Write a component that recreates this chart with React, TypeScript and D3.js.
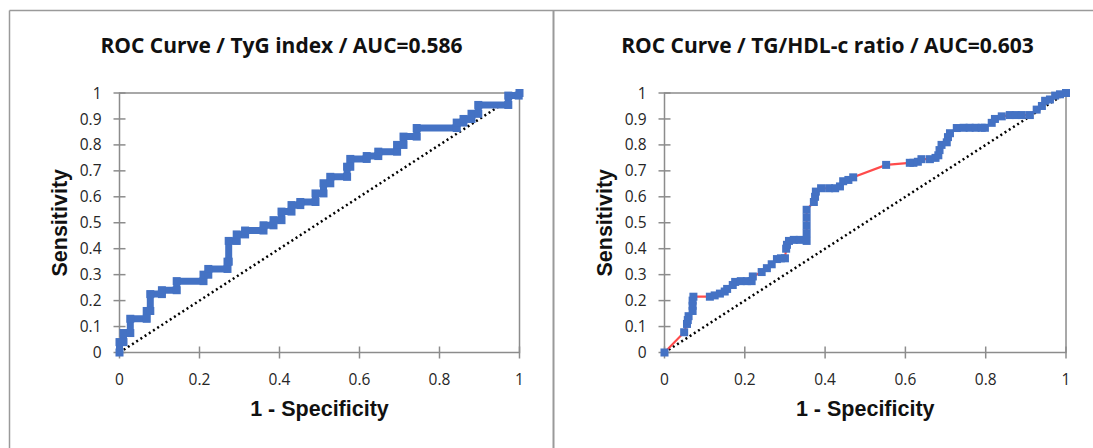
import React, { useRef, useEffect } from 'react';
import * as d3 from 'd3';

// TyG index ROC curve (step vertices)
const tygFpr = [0, 0, 0.01, 0.01, 0.027, 0.027, 0.068, 0.068, 0.077, 0.077, 0.106, 0.106, 0.143, 0.143, 0.21, 0.21, 0.222, 0.222, 0.27, 0.27, 0.273, 0.273, 0.293, 0.293, 0.314, 0.314, 0.36, 0.36, 0.385, 0.385, 0.405, 0.405, 0.43, 0.43, 0.452, 0.452, 0.49, 0.49, 0.51, 0.51, 0.527, 0.527, 0.569, 0.569, 0.577, 0.577, 0.618, 0.618, 0.647, 0.647, 0.694, 0.694, 0.71, 0.71, 0.743, 0.743, 0.843, 0.843, 0.86, 0.86, 0.88, 0.88, 0.897, 0.897, 0.972, 0.972, 0.998, 1];
const tygTpr = [0, 0.04, 0.04, 0.075, 0.075, 0.13, 0.13, 0.16, 0.16, 0.225, 0.225, 0.24, 0.24, 0.275, 0.275, 0.3, 0.3, 0.322, 0.322, 0.35, 0.35, 0.43, 0.43, 0.455, 0.455, 0.47, 0.47, 0.49, 0.49, 0.51, 0.51, 0.543, 0.543, 0.568, 0.568, 0.58, 0.58, 0.613, 0.613, 0.652, 0.652, 0.677, 0.677, 0.716, 0.716, 0.746, 0.746, 0.757, 0.757, 0.774, 0.774, 0.8, 0.8, 0.832, 0.832, 0.865, 0.865, 0.886, 0.886, 0.9, 0.9, 0.92, 0.92, 0.954, 0.954, 0.99, 0.99, 1];

// TG/HDL-c ratio ROC curve (marker positions)
const tgFpr = [0, 0.049, 0.056, 0.058, 0.06, 0.07, 0.07, 0.07, 0.072, 0.113, 0.125, 0.138, 0.15, 0.156, 0.17, 0.176, 0.19, 0.205, 0.217, 0.22, 0.242, 0.255, 0.267, 0.28, 0.29, 0.3, 0.303, 0.305, 0.31, 0.322, 0.337, 0.354, 0.354, 0.354, 0.354, 0.354, 0.372, 0.375, 0.377, 0.39, 0.41, 0.425, 0.437, 0.445, 0.458, 0.47, 0.552, 0.611, 0.62, 0.631, 0.64, 0.661, 0.675, 0.682, 0.685, 0.69, 0.703, 0.706, 0.711, 0.728, 0.745, 0.76, 0.775, 0.79, 0.798, 0.815, 0.823, 0.84, 0.86, 0.875, 0.89, 0.91, 0.927, 0.94, 0.948, 0.96, 0.973, 0.985, 1];
const tgTpr = [0, 0.078, 0.11, 0.125, 0.14, 0.16, 0.18, 0.2, 0.215, 0.215, 0.22, 0.227, 0.235, 0.245, 0.26, 0.272, 0.275, 0.275, 0.275, 0.293, 0.31, 0.325, 0.34, 0.36, 0.363, 0.363, 0.4, 0.415, 0.43, 0.434, 0.434, 0.43, 0.46, 0.49, 0.52, 0.55, 0.58, 0.6, 0.62, 0.633, 0.633, 0.633, 0.64, 0.66, 0.665, 0.675, 0.723, 0.731, 0.731, 0.735, 0.745, 0.745, 0.75, 0.76, 0.78, 0.8, 0.81, 0.83, 0.845, 0.865, 0.866, 0.866, 0.866, 0.866, 0.866, 0.885, 0.9, 0.91, 0.915, 0.915, 0.915, 0.915, 0.936, 0.95, 0.97, 0.975, 0.99, 0.995, 1];

const xTicks = [0, 0.2, 0.4, 0.6, 0.8, 1];
const yTicks = [0, 0.1, 0.2, 0.3, 0.4, 0.5, 0.6, 0.7, 0.8, 0.9, 1];

const titles = ['ROC Curve / TyG index / AUC=0.586', 'ROC Curve / TG/HDL-c ratio / AUC=0.603'];

const BLUE = '#4472C4';
const RED = '#FF4B4B';
const GRID = '#8C8C8C';

const App = () => {
  const ref = useRef(null);

  useEffect(() => {
    const svg = d3.select(ref.current);
    svg.selectAll('*').remove();

    // white page background
    svg.append('rect').attr('x', 0).attr('y', 0).attr('width', 1093).attr('height', 448).attr('fill', '#fff');

    // outer frame (top + left edges) and the divider between the two charts
    svg.append('line').attr('x1', 9.5).attr('x2', 1093).attr('y1', 10.5).attr('y2', 10.5)
      .attr('stroke', '#9a9a9a').attr('stroke-width', 1.5);
    svg.append('line').attr('x1', 9.5).attr('x2', 9.5).attr('y1', 10.5).attr('y2', 448)
      .attr('stroke', '#9a9a9a').attr('stroke-width', 1.5);
    svg.append('line').attr('x1', 553.5).attr('x2', 553.5).attr('y1', 10.5).attr('y2', 448)
      .attr('stroke', '#9a9a9a').attr('stroke-width', 2);

    const panels = [
      { left: 119.5, right: 519.5, cx: 281.5, xs: tygFpr, ys: tygTpr, mode: 'step' },
      { left: 664.5, right: 1066, cx: 827.5, xs: tgFpr, ys: tgTpr, mode: 'marker' }
    ];
    const top = 93, bottom = 352.5;

    panels.forEach((p, k) => {
      const g = svg.append('g');
      const x = d3.scaleLinear().domain([0, 1]).range([p.left, p.right]);
      const y = d3.scaleLinear().domain([0, 1]).range([bottom, top]);

      // plot box
      g.append('rect').attr('x', p.left).attr('y', top).attr('width', p.right - p.left).attr('height', bottom - top)
        .attr('fill', 'none').attr('stroke', GRID).attr('stroke-width', 1.5);

      // cross ticks
      g.selectAll('.xt').data(xTicks).enter().append('line')
        .attr('x1', d => x(d)).attr('x2', d => x(d)).attr('y1', bottom - 6).attr('y2', bottom + 6)
        .attr('stroke', GRID).attr('stroke-width', 1.5);
      g.selectAll('.yt').data(yTicks).enter().append('line')
        .attr('x1', p.left - 6).attr('x2', p.left + 6).attr('y1', d => y(d)).attr('y2', d => y(d))
        .attr('stroke', GRID).attr('stroke-width', 1.5);

      // tick labels
      g.selectAll('.xl').data(xTicks).enter().append('text')
        .attr('x', d => x(d)).attr('y', bottom + 32).attr('text-anchor', 'middle')
        .attr('font-family', 'Open Sans').attr('font-size', 15.5).attr('fill', '#262626')
        .text(d => String(d));
      g.selectAll('.yl').data(yTicks).enter().append('text')
        .attr('x', p.left - 18).attr('y', d => y(d)).attr('dy', '0.36em').attr('text-anchor', 'end')
        .attr('font-family', 'Open Sans').attr('font-size', 15.5).attr('fill', '#262626')
        .text(d => String(d));

      // titles
      g.append('text').attr('x', p.cx).attr('y', 53).attr('text-anchor', 'middle')
        .attr('font-family', 'Open Sans').attr('font-weight', 'bold').attr('font-size', 21).attr('fill', '#111')
        .text(titles[k]);
      g.append('text').attr('x', (p.left + p.right) / 2).attr('y', 416).attr('text-anchor', 'middle')
        .attr('font-family', 'Liberation Sans').attr('font-weight', 'bold').attr('font-size', 21.5).attr('fill', '#111')
        .text('1 - Specificity');
      g.append('text').attr('transform', `translate(${p.left - 53},${(top + bottom) / 2}) rotate(-90)`)
        .attr('text-anchor', 'middle')
        .attr('font-family', 'Liberation Sans').attr('font-weight', 'bold').attr('font-size', 21.5).attr('fill', '#111')
        .text('Sensitivity');

      // reference diagonal
      g.append('line').attr('x1', x(0)).attr('y1', y(0)).attr('x2', x(1)).attr('y2', y(1))
        .attr('stroke', '#000').attr('stroke-width', 2.5).attr('stroke-dasharray', '2,3');

      const pts = p.xs.map((v, i) => [v, p.ys[i]]);
      const line = d3.line().x(d => x(d[0])).y(d => y(d[1]));

      g.append('path').datum(pts).attr('d', line).attr('fill', 'none')
        .attr('stroke', p.mode === 'step' ? BLUE : RED)
        .attr('stroke-width', p.mode === 'step' ? 7 : 2.2)
        .attr('stroke-linejoin', 'miter');

      g.selectAll('.m').data(pts).enter().append('rect')
        .attr('x', d => x(d[0]) - 4).attr('y', d => y(d[1]) - 4)
        .attr('width', 8).attr('height', 8).attr('fill', BLUE);
    });
  }, []);

  return (
    <div style={{ position: 'fixed', left: 0, top: 0, width: '100vw', height: '100vh', overflow: 'hidden', background: '#fff' }}>
      <svg ref={ref} width={1093} height={448} style={{ display: 'block' }} />
    </div>
  );
};

export default App;
